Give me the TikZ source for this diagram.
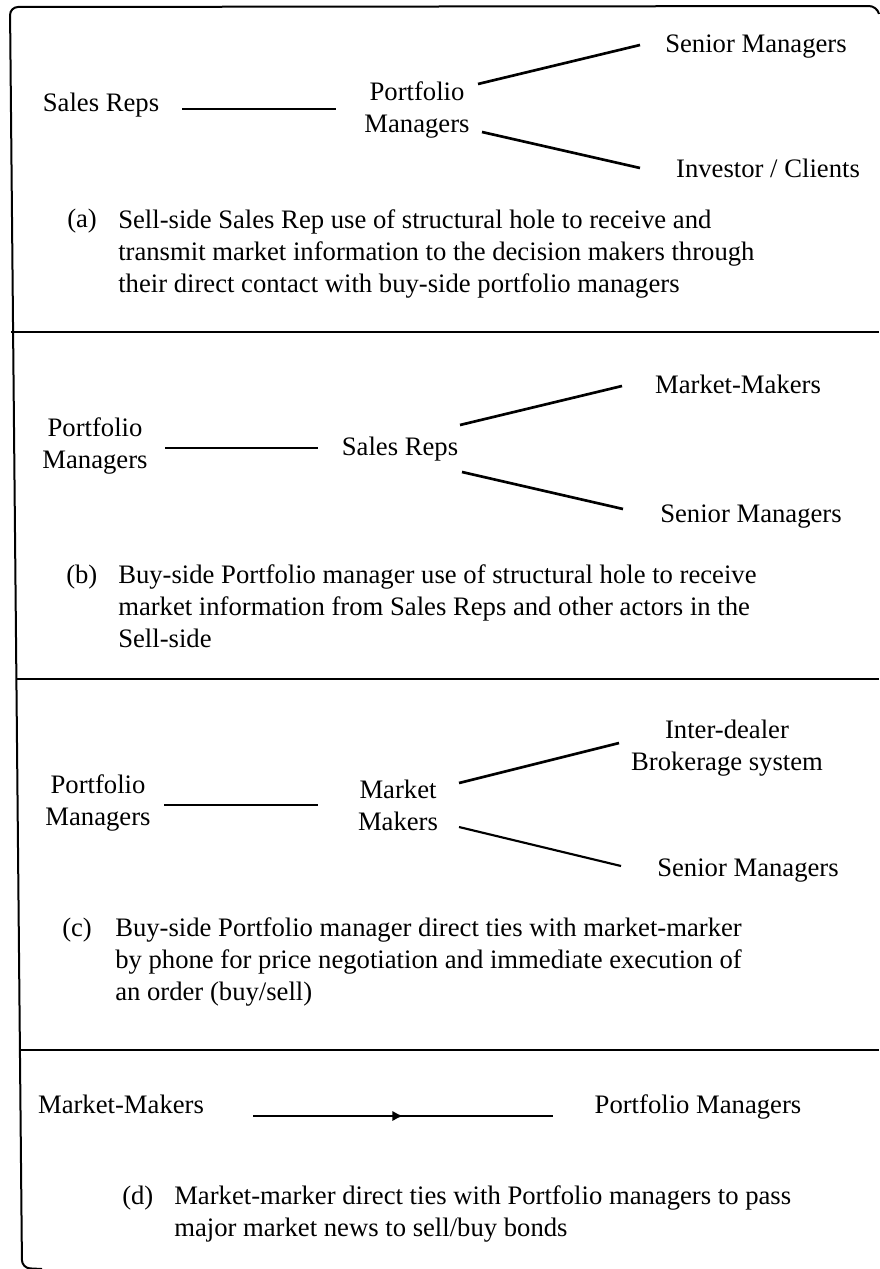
\documentclass[tikz,border=0pt]{standalone}
\usepackage{fontspec}
\setmainfont{Liberation Serif}
\usetikzlibrary{arrows,arrows.meta,calc,positioning,decorations.markings}
\tikzset{>=latex}

\begin{document}
\begin{tikzpicture}[x=0.75pt, y=-0.75pt,
	actor/.style={inner sep=0pt, align=center, font=\fontsize{20}{24}\selectfont},
	capt/.style={inner sep=0pt, align=left, anchor=north west, font=\fontsize{20}{24}\selectfont},
	tag/.style={inner sep=0pt, anchor=base west, font=\fontsize{20}{24}\selectfont},
	tie/.style={line width=2pt},
	rule/.style={line width=2.2pt},
	frame/.style={line width=1.5pt, rounded corners=6pt},
	midarrow/.style={decoration={markings, mark=at position 0.5 with {\arrow{Latex[length=8pt,width=8pt]}}}, postaction={decorate}}]
	\useasboundingbox (0,0) rectangle (879,1269);

	% frame and dividers
	\draw[frame] (879,14) -- (877,6) -- (10,7) -- (22,1268) -- (42,1269);
	\draw[rule] (11,332) -- (879,332);
	\draw[rule] (16,679) -- (879,679);
	\draw[rule] (20,1050) -- (879,1050);

	% (a)
	\node[actor, anchor=base] (sra) at (101,112) {Sales Reps};
	\node[actor] (pma) at (417,110) {Portfolio\\Managers};
	\node[actor, anchor=base] (sma) at (756,53) {Senior Managers};
	\node[actor, anchor=base] (ica) at (768,178) {Investor / Clients};
	\draw[tie] ($(sra.base)+(81,-3)$) -- ($(pma)+(-81,-1)$);
	\draw[tie] ($(pma)+(61,-26)$) -- ($(sma.base)+(-116,-8)$);
	\draw[tie] ($(pma)+(65,22)$) -- ($(ica.base)+(-128,-10)$);
	\node[tag] (taga) at (67,228) {(a)};
	\node[capt] (capa) at (118,209.6) {Sell-side Sales Rep use of structural hole to receive and\\
		transmit market information to the decision makers through\\
		their direct contact with buy-side portfolio managers};

	% (b)
	\node[actor] (pmb) at (95,445.5) {Portfolio\\Managers};
	\node[actor, anchor=base] (srb) at (400,455) {Sales Reps};
	\node[actor, anchor=base] (mmb) at (738,393) {Market-Makers};
	\node[actor, anchor=base] (smb) at (751,522) {Senior Managers};
	\draw[tie] ($(pmb)+(70,2.5)$) -- ($(srb.base)+(-82,-7)$);
	\draw[tie] ($(srb.base)+(60,-30)$) -- ($(mmb.base)+(-116,-7)$);
	\draw[tie] ($(srb.base)+(62,17)$) -- ($(smb.base)+(-128,-13)$);
	\node[tag] (tagb) at (66,583) {(b)};
	\node[capt] (capb) at (118,564.6) {Buy-side Portfolio manager use of structural hole to receive\\
		market information from Sales Reps and other actors in the\\
		Sell-side};

	% (c)
	\node[actor] (idc) at (727,748) {Inter-dealer\\Brokerage system};
	\node[actor] (pmc) at (98,803) {Portfolio\\Managers};
	\node[actor] (mmc) at (398,805) {Market\\Makers};
	\node[actor, anchor=base] (smc) at (748,876) {Senior Managers};
	\draw[tie] ($(pmc)+(66,2)$) -- ($(mmc)+(-80,0)$);
	\draw[tie] ($(mmc)+(61,-22)$) -- ($(idc)+(-108,-5)$);
	\draw[tie, line width=1.6pt] ($(mmc)+(61,22)$) -- ($(smc.base)+(-127,-10)$);
	\node[tag] (tagc) at (62,936) {(c)};
	\node[capt] (capc) at (115,917.6) {Buy-side Portfolio manager direct ties with market-marker\\
		by phone for price negotiation and immediate execution of\\
		an order (buy/sell)};

	% (d)
	\node[actor, anchor=base] (mmd) at (121,1113) {Market-Makers};
	\node[actor, anchor=base] (pmd) at (698,1113) {Portfolio Managers};
	\draw[tie, midarrow] ($(mmd.base)+(132,3)$) -- ($(pmd.base)+(-145,3)$);
	\node[tag] (tagd) at (122,1204) {(d)};
	\node[capt] (capd) at (174,1185.6) {Market-marker direct ties with Portfolio managers to pass\\
		major market news to sell/buy bonds};
\end{tikzpicture}
\end{document}
